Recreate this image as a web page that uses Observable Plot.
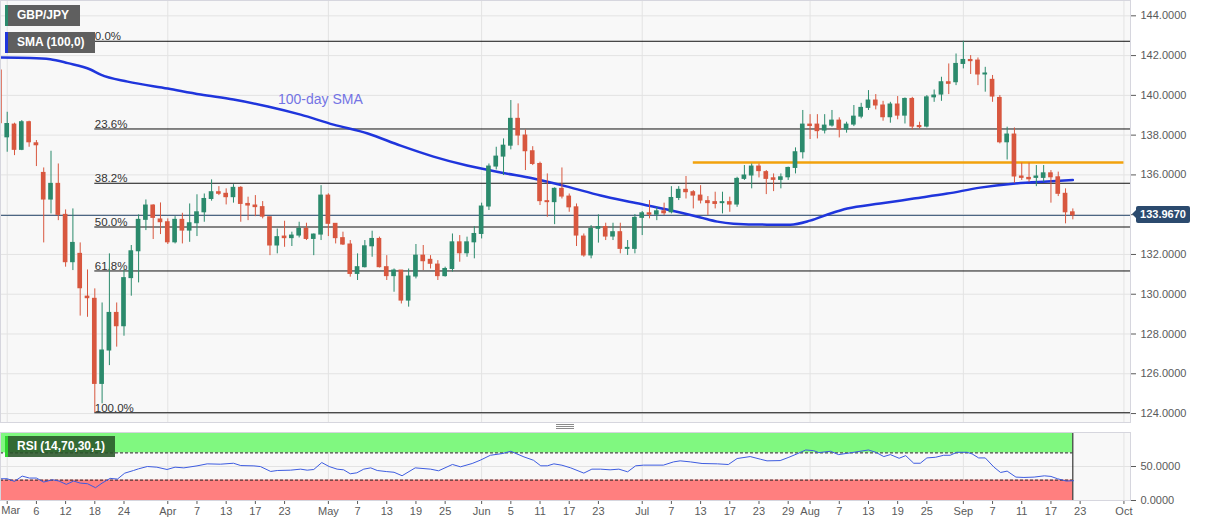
<!DOCTYPE html>
<html>
<head>
<meta charset="utf-8">
<script src="https://cdn.jsdelivr.net/npm/d3@7"></script>
<script src="https://cdn.jsdelivr.net/npm/@observablehq/plot@0.6"></script>
<style>
  body { margin: 0; background: #fff; font-family: "Liberation Sans", Arial, sans-serif; }
  #wrap { position: relative; width: 1207px; height: 526px; overflow: hidden; }
  #wrap svg { display: block; }
  .tag { position: absolute; left: 5px; height: 21px; line-height: 21px; padding-left: 9px; box-sizing: border-box;
         color: #fff; font-weight: bold; font-size: 12px; }
  #price { position: absolute; left: 1136px; width: 54px; height: 17px; line-height: 17px; text-align: center;
           background: #2b4a6e; color: #fff; font-weight: bold; font-size: 11px; border-radius: 2px; }
  #price::before { content: ""; position: absolute; left: -4px; top: 4px; border-style: solid;
           border-width: 4.5px 4px 4.5px 0; border-color: transparent #2b4a6e transparent transparent; }
  #grip { position: absolute; left: 556px; top: 424px; width: 18px; height: 5px;
          border-top: 1px solid #8a8a8a; border-bottom: 1px solid #8a8a8a; box-sizing: border-box; }
  #grip::after { content: ""; position: absolute; left: 0; right: 0; top: 1px; border-top: 1px solid #8a8a8a; }
</style>
</head>
<body>
<div id="wrap">
  <div id="main"></div>
  <div id="rsi"></div>
  <div class="tag" style="top:5px;width:75px;background:#5f5f5f;border-left:3px solid #2b8a6c">GBP/JPY</div>
  <div class="tag" style="top:32px;width:90px;background:#5f5f5f;border-left:3px solid #1f35dc">SMA (100,0)</div>
  <div class="tag" style="top:436px;width:110px;background:rgba(40,85,40,0.88);border-left:3px solid #2fd42f">RSI (14,70,30,1)</div>
  <div id="grip"></div>
  <div id="price"></div>
</div>
<script>
// trading-day index: 0 = 2 Mar 2020, first row is 28 Feb
const firstIndex = -1;
const open = [141.25,137.89,138.53,137.26,138.65,137.59,136.1,134.76,135.55,133.99,131.61,132.03,129.88,129.77,125.49,127.17,129.06,128.39,130.81,132.16,133.74,134.46,133.76,133.62,132.61,133.74,133.2,133.57,134.12,134.79,135.13,135.05,134.88,135.35,134.54,134.46,134.38,133.87,132.45,132.9,132.82,132.95,133.29,132.78,133.0,134.96,133.54,132.82,132.5,131.02,131.36,132.41,132.78,131.36,130.91,131.19,129.68,130.89,131.94,131.73,131.49,130.91,131.27,132.61,132.06,132.61,133.03,134.41,136.42,136.92,137.47,138.82,137.98,137.19,136.55,134.68,134.63,135.3,134.91,134.37,132.9,131.95,133.29,133.38,132.9,133.12,132.28,132.28,133.84,134.07,134.0,134.17,134.12,134.84,135.25,135.13,134.96,134.68,134.63,134.58,134.63,134.51,135.8,135.97,136.42,136.14,135.83,135.75,135.88,136.35,137.14,138.53,138.53,138.23,138.48,138.73,138.28,138.53,138.93,139.37,139.74,139.49,138.9,139.54,138.98,139.82,138.46,138.43,139.9,140.04,140.66,140.66,141.58,141.78,141.75,141.05,140.78,139.87,137.64,138.03,135.92,135.85,135.85,135.85,136.08,135.88,135.05,134.12];
const high = [141.6,139.15,138.6,138.73,138.7,137.73,136.35,137.19,136.55,134.24,134.29,132.58,131.22,130.27,129.56,132.03,129.56,131.22,132.45,133.99,134.74,134.5,134.59,133.79,133.9,134.07,134.54,135.0,135.04,135.75,135.41,135.3,135.51,135.41,134.88,134.96,134.66,133.87,133.28,133.67,133.12,133.62,133.57,133.03,135.46,135.05,133.54,133.12,132.7,132.03,132.7,133.17,132.87,131.94,131.27,131.19,131.27,132.5,132.45,131.94,131.69,131.36,133.03,132.95,132.87,133.4,134.58,136.55,137.39,137.81,139.74,139.57,138.26,137.42,136.64,136.05,135.35,136.35,135.04,134.54,133.03,133.45,133.99,133.57,133.57,133.57,132.7,134.0,134.16,134.71,134.37,134.58,135.41,135.41,135.92,135.21,135.46,134.91,135.13,135.13,134.88,135.88,136.47,136.55,136.55,136.22,136.05,136.05,136.39,137.36,139.24,139.03,139.03,139.03,139.24,138.87,138.65,139.49,139.6,140.24,140.04,139.7,139.65,139.94,139.87,139.9,138.65,139.99,140.27,140.91,141.58,142.08,142.72,142.0,141.88,141.41,141.0,139.99,138.4,138.36,136.59,136.59,136.47,136.47,136.22,136.14,135.3,134.29];
const low = [137.6,137.14,136.97,137.22,137.39,136.42,132.58,134.04,133.7,131.36,131.19,128.9,128.84,124.04,124.49,126.41,127.34,127.89,129.9,130.57,133.2,132.75,133.0,132.5,132.53,132.53,132.61,132.9,133.62,134.68,134.96,134.49,134.58,133.62,133.7,133.9,133.79,131.94,132.03,132.36,132.4,132.83,132.7,131.94,132.7,132.9,132.53,132.45,130.86,130.69,131.32,131.86,131.32,130.69,130.1,129.51,129.35,130.77,131.19,131.27,130.69,130.86,131.11,131.61,131.86,131.78,132.78,134.21,136.25,135.97,137.26,137.47,136.22,136.47,134.46,133.87,133.5,134.79,134.12,132.4,131.86,131.78,132.57,132.7,132.7,132.03,131.95,132.03,132.95,133.79,133.7,133.96,134.04,134.71,134.79,134.29,134.54,133.96,134.29,134.04,134.12,134.37,135.72,135.3,135.85,135.01,135.16,135.3,135.72,136.05,136.8,137.78,137.81,138.06,138.4,137.86,138.1,138.43,138.82,139.24,139.27,138.7,138.6,138.77,138.56,138.26,138.31,138.36,139.65,139.7,140.04,140.49,141.33,141.05,140.49,140.16,139.65,137.56,136.75,135.58,135.72,135.63,135.41,135.63,134.58,134.91,133.54,133.74];
const close = [138.6,138.56,137.26,138.65,137.64,137.49,134.76,135.55,133.99,131.61,132.58,130.3,129.8,125.49,127.17,129.06,128.39,130.81,132.16,133.74,134.46,133.84,133.62,132.61,133.74,133.2,133.57,134.12,134.79,135.13,135.05,134.88,135.35,134.54,134.46,134.38,133.9,132.45,132.87,132.82,132.95,133.29,132.78,133.0,134.96,133.54,132.82,132.5,131.02,131.36,132.41,132.78,131.36,130.91,131.19,129.68,130.89,131.94,131.66,131.53,130.91,131.27,132.61,132.06,132.61,133.03,134.41,136.42,136.92,137.47,138.82,137.98,137.19,136.55,134.68,134.63,135.3,134.91,134.37,132.95,131.95,133.29,133.38,132.9,133.12,132.28,132.33,133.84,134.07,134.0,134.17,134.07,134.84,135.25,135.13,134.96,134.71,134.58,134.54,134.63,134.51,135.8,135.97,136.42,136.19,135.8,135.75,135.88,136.35,137.14,138.53,138.46,138.2,138.48,138.73,138.28,138.53,138.93,139.37,139.74,139.49,138.9,139.54,138.98,139.82,138.43,138.4,139.9,139.99,140.66,140.58,141.58,141.78,141.72,141.05,141.1,139.94,137.64,138.03,135.92,135.85,135.78,135.92,136.08,135.88,135.05,134.12,133.967];

// 100-day SMA
const smaIdx = [-0.92,3.2,5.9,8.3,11.4,12.8,16.5,22,26.5,31,35.7,40.2,44.7,49.4,53.9,58.4,63,67.6,72.1,76.75,81.3,85.8,90.4,95,97.3,99.5,104.1,107.3,110,112.8,115.1,119.6,124.2,128.8,133.3,137.8,142.5,146];
const smaVal = [141.90,141.88,141.82,141.62,141.30,141.04,140.69,140.34,140.04,139.79,139.44,139.03,138.53,138.08,137.47,136.92,136.47,136.12,135.82,135.41,134.96,134.61,134.26,133.86,133.65,133.55,133.50,133.50,133.70,134.06,134.31,134.56,134.81,135.06,135.36,135.56,135.67,135.74];

// RSI(14)
const rsiIdx = [-0.92,0,1,2.05,3.05,4,5,6.2,7.1,8.1,9.1,10,11,12.1,13,14.1,15.1,16.1,17.3,18,19.2,20.5,21.9,23,24.2,26,27.4,29.2,31,32,33.8,34.7,36.1,37,38.8,40.2,41.1,42,43.1,44.1,45.2,46.1,47,47.9,48.85,49.8,50.7,52,53,54.1,55.9,58,59.1,61,62.1,63.7,64.8,66.2,67.8,69,70.8,72.1,73.1,74,74.9,76,77.2,79,80.1,81.3,82.6,83.8,85,86.1,87.2,89.9,91.3,92.2,93.6,95.2,97.3,98.8,100,101.8,103.2,104.1,105.9,107.1,108.2,109.4,110.5,111.2,112.8,113.9,115.1,118,119,120.1,121,122.2,123.1,124.2,125.1,126,127.2,128.3,129.2,130.1,131.5,132.2,133.1,134,135.2,136.1,137,138.2,139.3,140.7,142.1,143,143.9,145.1,146.1];
const rsiVal = [32.0,32.0,28.1,35.9,33.0,33.0,27.1,30.5,28.6,23.7,28.6,25.6,24.7,18.8,25.6,32.5,31.5,40.2,44.1,46.6,50.0,49.0,45.6,49.0,48.0,50.9,53.9,53.4,54.8,51.4,50.9,49.9,42.7,44.1,44.6,46.1,44.6,45.6,55.8,50.0,46.1,45.1,39.3,40.7,46.1,48.0,44.1,42.5,41.5,36.4,48.0,46.1,43.7,53.0,49.5,54.4,59.2,66.5,69.0,72.4,64.1,59.2,51.0,51.0,53.9,51.9,48.0,40.3,46.1,46.1,45.1,46.1,42.2,51.0,52.0,52.0,56.8,58.3,56.8,54.4,53.9,52.9,61.7,64.6,60.7,58.3,58.7,63.6,68.5,74.3,73.3,70.4,72.4,67.5,69.4,74.3,70.9,64.6,67.5,62.1,66.0,54.8,54.8,62.6,63.6,66.5,66.5,70.9,70.9,68.5,62.6,62.6,49.0,41.2,43.2,34.4,33.9,34.4,36.3,35.4,32.0,28.6,29.1];

// Fibonacci retracement of the 124.04 -> 142.72 swing
const fibLabels = ["0.0%", "23.6%", "38.2%", "50.0%", "61.8%", "100.0%"];
const fibPrices = [142.72, 138.31, 135.58, 133.38, 131.17, 124.04];
const fibFrom = 12;

const resistance = 136.62, resFrom = 94, resTo = 153;
const lastPrice = 133.967;
const notes = [{text: "100-day SMA", i: 42.9, price: 139.8}];

const priceTicks = [124, 126, 128, 130, 132, 134, 136, 138, 140, 142, 144];
const xTickIdx = [0,4,8,12,16,22,26,30,34,38,44,48,52,56,60,65,69,73,77,81,87,91,95,99,103,107,110,114,118,122,126,131,135,139,143,147,153];
const xTickLab = ["Mar","6","12","18","24","Apr","7","13","17","23","May","7","13","19","25","Jun","5","11","17","23","Jul","7","13","17","23","29","Aug","7","13","19","25","Sep","7","11","17","23","Oct"];
const monthIdx = [0, 22, 44, 65, 87, 110, 131, 153];

const candles = open.map((o, k) => ({i: k + firstIndex, o, h: high[k], l: low[k], c: close[k]}));
const sma = smaIdx.map((i, k) => ({i, v: smaVal[k]}));
const rsi = rsiIdx.map((i, k) => ({i, v: rsiVal[k]}));
const fibs = fibLabels.map((label, k) => ({label, price: fibPrices[k]}));
const lastIdx = candles[candles.length - 1].i;
const tickLabel = new Map(xTickIdx.map((d, k) => [d, xTickLab[k]]));

const xDomain = [-0.92, 153.9];
const up = "#2b8a6c", down = "#d8573f";
const col = d => (d.c >= d.o ? up : down);
const font = {fontFamily: '"Liberation Sans", Arial, sans-serif', fontSize: "11px", color: "#5a5a5a", background: "transparent", overflow: "visible"};

const main = Plot.plot({
  width: 1207,
  height: 428,
  marginLeft: 0,
  marginRight: 77,
  marginTop: 0,
  marginBottom: 6,
  x: {domain: xDomain, axis: null},
  y: {domain: [123.55, 144.77], axis: null},
  style: font,
  marks: [
    Plot.frame({fill: "#f8f8f8"}),
    Plot.gridY(priceTicks, {stroke: "#e3e3e3", strokeOpacity: 1}),
    Plot.gridX(monthIdx, {stroke: "#e3e3e3", strokeOpacity: 1}),
    Plot.ruleY(fibs, {y: "price", x1: fibFrom, x2: xDomain[1], stroke: "#111", strokeWidth: 1}),
    Plot.text(fibs, {x: fibFrom, y: "price", text: "label", textAnchor: "start", lineAnchor: "bottom", dy: -1, fill: "#333", fontSize: 11.5}),
    Plot.ruleY([lastPrice], {stroke: "#2b4a6e", strokeWidth: 1}),
    Plot.ruleY([resistance], {x1: resFrom, x2: resTo, stroke: "#f2a20c", strokeWidth: 2.5}),
    Plot.line(sma, {x: "i", y: "v", curve: "monotone-x", stroke: "#1f35dc", strokeWidth: 2.5}),
    Plot.ruleX(candles, {x: "i", y1: "l", y2: "h", stroke: col, strokeWidth: 1}),
    Plot.rect(candles, {
      x1: d => d.i - 0.32, x2: d => d.i + 0.32,
      y1: d => Math.min(d.o, d.c), y2: d => Math.max(d.o, d.c),
      fill: col, insetTop: -0.5, insetBottom: -0.5
    }),
    Plot.text(notes, {x: "i", y: "price", text: "text", fill: "#7474e4", fontSize: 14}),
    Plot.axisY({anchor: "right", ticks: priceTicks, tickFormat: d3.format(".4f"), tickSize: 5, tickPadding: 5, label: null, fontSize: 11}),
    Plot.frame({stroke: "#d6d6de"})
  ]
});
document.getElementById("main").append(main);

const rsiChart = Plot.plot({
  width: 1207,
  height: 98,
  marginLeft: 0,
  marginRight: 77,
  marginTop: 4,
  marginBottom: 26,
  x: {domain: xDomain, axis: null},
  y: {domain: [0, 100], axis: null},
  style: font,
  marks: [
    Plot.frame({fill: "#f8f8f8"}),
    Plot.gridY([50], {stroke: "#e3e3e3", strokeOpacity: 1}),
    Plot.gridX(monthIdx, {stroke: "#e3e3e3", strokeOpacity: 1}),
    Plot.rect([{lo: 70, hi: 100}], {x1: xDomain[0], x2: lastIdx, y1: "lo", y2: "hi", fill: "#80f880"}),
    Plot.rect([{lo: 0, hi: 30}], {x1: xDomain[0], x2: lastIdx, y1: "lo", y2: "hi", fill: "#ff7f7f"}),
    Plot.ruleY([30, 70], {x1: xDomain[0], x2: lastIdx, stroke: "#222", strokeWidth: 1, strokeDasharray: "3,2"}),
    Plot.ruleX([lastIdx], {y1: 0, y2: 100, stroke: "#111", strokeWidth: 1}),
    Plot.line(rsi, {x: "i", y: "v", stroke: "#3d5ce0", strokeWidth: 1}),
    Plot.axisY({anchor: "right", ticks: [0, 50], tickFormat: d3.format(".4f"), tickSize: 5, tickPadding: 5, label: null, fontSize: 11}),
    Plot.axisX({ticks: xTickIdx, tickFormat: d => (d === xTickIdx[0] ? "" : tickLabel.get(d)), tickSize: 4, tickPadding: 3, label: null, fontSize: 11}),
    // first month name sits flush with the left edge, as in the original
    Plot.text([xTickLab[0]], {x: xTickIdx[0], frameAnchor: "bottom", dy: 13, dx: -6, textAnchor: "start", fill: "#5a5a5a", fontSize: 11}),
    Plot.frame({stroke: "#d6d6de"})
  ]
});
document.getElementById("rsi").append(rsiChart);

const tag = document.getElementById("price");
tag.textContent = d3.format(".4f")(lastPrice);
tag.style.top = (main.scale("y").apply(lastPrice) - 8.5) + "px";
</script>
</body>
</html>
